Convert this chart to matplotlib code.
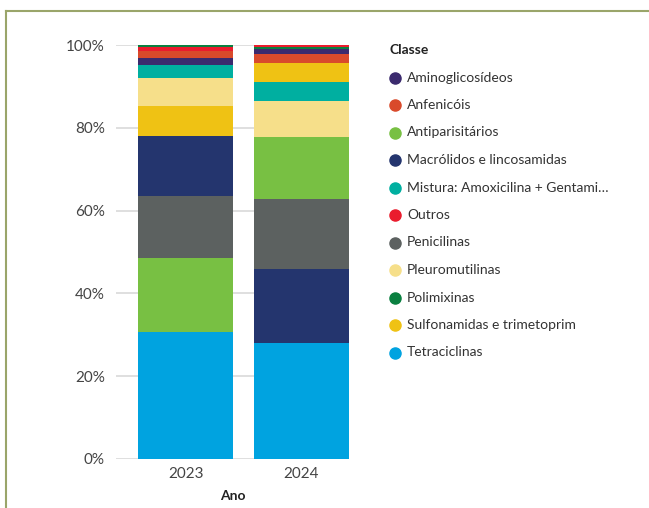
import matplotlib.pyplot as plt
from matplotlib.lines import Line2D
import numpy as np

plt.rcParams['font.family'] = ['Lato', 'DejaVu Sans']

anos = ['2023', '2024']
classes = ['Aminoglicosídeos', 'Anfenicóis', 'Antiparisitários',
           'Macrólidos e lincosamidas', 'Mistura: Amoxicilina + Gentami…',
           'Outros', 'Penicilinas', 'Pleuromutilinas', 'Polimixinas',
           'Sulfonamidas e trimetoprim', 'Tetraciclinas']
cores = ['#3b2a6e', '#d94a2b', '#78c043', '#24356e', '#00afa0', '#ea1c2d',
         '#5c6160', '#f6df8a', '#0a8040', '#efc214', '#00a3e0']

# percentagens por classe (mesma ordem de "classes")
v2023 = [1.7, 1.7, 17.8, 14.5, 3.1, 0.8, 15.0, 6.8, 0.6, 7.3, 30.7]
v2024 = [1.2, 2.1, 15.0, 17.8, 4.6, 0.5, 16.9, 8.7, 0.5, 4.6, 28.1]

fig = plt.figure(figsize=(6.49, 5.08), dpi=100)
ax = fig.add_axes([116/649, 49/508, 233/649, 414/508])

# cada barra empilhada do maior (em baixo) para o menor
for i, vals in enumerate([v2023, v2024]):
    ordem = np.argsort(vals)[::-1]
    base = 0
    for k in ordem:
        ax.bar(i, vals[k], bottom=base, width=0.82, color=cores[k], zorder=3)
        base += vals[k]

ax.set_xlim(-0.6, 1.41)
ax.set_ylim(0, 100)
ax.set_yticks([0, 20, 40, 60, 80, 100])
ax.set_yticklabels([f'{t}%' for t in [0, 20, 40, 60, 80, 100]])
ax.set_xticks([0, 1])
ax.set_xticklabels(anos)
ax.grid(axis='y', color='#d9d9d9', lw=1.2, zorder=0)
ax.tick_params(length=0, labelsize=11, colors='#444444', pad=8)
ax.tick_params(axis='x', pad=6)
for s in ax.spines.values():
    s.set_visible(False)
ax.set_xlabel('Ano', fontsize=10, fontweight='bold', color='#222222', labelpad=6)

# legenda
fig.text(389/649, 1 - 50/508, 'Classe', fontsize=10, fontweight='bold',
         color='#222222', va='center', ha='left')
for j, (c, nome) in enumerate(zip(cores, classes)):
    y = 1 - (77.5 + j * 27.5) / 508
    fig.add_artist(Line2D([395/649], [y], marker='o', ms=8, color=c, lw=0,
                          transform=fig.transFigure))
    fig.text(407/649, y, nome, fontsize=10, color='#333333', va='center', ha='left')

# moldura
borda = '#9aa56a'
fig.add_artist(Line2D([5.5/649, 1], [1 - 10.5/508, 1 - 10.5/508], color=borda, lw=1.5,
                      transform=fig.transFigure))
fig.add_artist(Line2D([5.5/649, 5.5/649], [0, 1 - 10.5/508], color=borda, lw=1.5,
                      transform=fig.transFigure))

fig.savefig('out.png', dpi=100)
